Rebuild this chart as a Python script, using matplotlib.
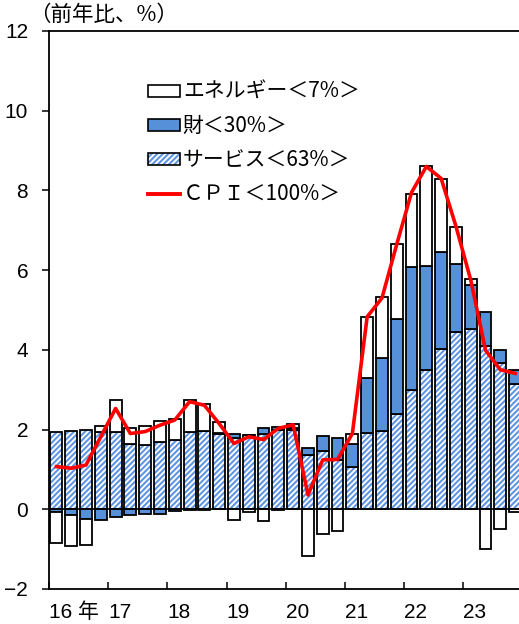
import matplotlib
matplotlib.use("Agg")
import matplotlib.pyplot as plt
from matplotlib import font_manager
from matplotlib.patches import Patch
from matplotlib.lines import Line2D
from matplotlib.legend_handler import HandlerTuple
import numpy as np

# ---------------- data ----------------
quarters = ["16Q1", "16Q2", "16Q3", "16Q4", "17Q1", "17Q2", "17Q3", "17Q4",
            "18Q1", "18Q2", "18Q3", "18Q4", "19Q1", "19Q2", "19Q3", "19Q4",
            "20Q1", "20Q2", "20Q3", "20Q4", "21Q1", "21Q2", "21Q3", "21Q4",
            "22Q1", "22Q2", "22Q3", "22Q4", "23Q1", "23Q2", "23Q3", "23Q4"]
year_labels = ["16 年", "17", "18", "19", "20", "21", "22", "23"]

services = [1.93, 1.97, 2.00, 1.93, 1.93, 1.65, 1.61, 1.70,
            1.75, 1.95, 1.97, 1.88, 1.78, 1.86, 1.90, 2.00,
            1.98, 1.36, 1.47, 1.24, 1.07, 1.92, 1.97, 2.39,
            3.00, 3.49, 4.01, 4.45, 4.53, 4.09, 3.68, 3.14]
goods = [-0.06, -0.15, -0.25, -0.28, -0.20, -0.15, -0.13, -0.11,
         -0.05, -0.02, -0.01, 0.04, 0.12, 0.00, 0.15, 0.07,
         0.05, 0.17, 0.38, 0.56, 0.57, 1.38, 1.83, 2.39,
         3.07, 2.61, 2.44, 1.70, 1.10, 0.86, 0.31, 0.35]
energy = [-0.79, -0.78, -0.64, 0.17, 0.81, 0.40, 0.49, 0.52,
          0.51, 0.79, 0.67, 0.26, -0.26, -0.06, -0.30, -0.03,
          0.10, -1.16, -0.62, -0.55, 0.25, 1.52, 1.52, 1.87,
          1.85, 2.51, 1.83, 0.92, 0.15, -0.99, -0.49, -0.08]
cpi = [1.07, 1.03, 1.11, 1.82, 2.53, 1.90, 1.95, 2.11,
       2.24, 2.70, 2.61, 2.15, 1.65, 1.82, 1.75, 2.03,
       2.12, 0.36, 1.24, 1.25, 1.90, 4.83, 5.30, 6.65,
       7.95, 8.60, 8.30, 7.10, 5.75, 3.99, 3.50, 3.41]

labels = ["エネルギー＜7%＞", "財＜30%＞", "サービス＜63%＞", "ＣＰＩ＜100%＞"]

# ---------------- style ----------------
available = {f.name for f in font_manager.fontManager.ttflist}
narrow = "Liberation Sans Narrow" if "Liberation Sans Narrow" in available else "Liberation Sans"
plt.rcParams["font.family"] = ["Noto Sans CJK JP", "DejaVu Sans"]
plt.rcParams["hatch.linewidth"] = 1.5
plt.rcParams["axes.unicode_minus"] = True

goods_color = "#5590d9"
hatch_color = "#5f95e2"

W, H = 519, 624
fig = plt.figure(figsize=(W / 100, H / 100), dpi=100)
ax = fig.add_axes([49 / W, 1 - 589 / H, 1 - 49 / W, (589 - 31) / H])

x = np.arange(len(quarters))
width = 0.8

pos_bottom = np.zeros(len(x))
neg_bottom = np.zeros(len(x))

def stack(vals):
    vals = np.asarray(vals, dtype=float)
    bottoms = np.where(vals >= 0, pos_bottom, neg_bottom)
    return vals, bottoms

def advance(vals):
    global pos_bottom, neg_bottom
    pos_bottom = pos_bottom + np.where(vals >= 0, vals, 0)
    neg_bottom = neg_bottom + np.where(vals < 0, vals, 0)

# services (hatched)
v, b = stack(services)
ax.bar(x, v, width, bottom=b, facecolor="white", edgecolor=hatch_color,
       hatch="//////", linewidth=0, zorder=2)
ax.bar(x, v, width, bottom=b, fill=False, edgecolor="black", linewidth=1.3, zorder=3)
advance(v)
# goods
v, b = stack(goods)
ax.bar(x, v, width, bottom=b, facecolor=goods_color, edgecolor="black",
       linewidth=1.3, zorder=3)
advance(v)
# energy
v, b = stack(energy)
ax.bar(x, v, width, bottom=b, facecolor="white", edgecolor="black",
       linewidth=1.3, zorder=3)
advance(v)

ax.plot(x, cpi, color="#ff0000", linewidth=2.6, zorder=5, solid_joinstyle="round")
ax.axhline(0, color="black", linewidth=1.2, zorder=4)

# axes
ax.set_xlim(-0.5, 31.26)
ax.set_ylim(-2, 12)
ax.set_yticks(np.arange(-2, 13, 2))
ax.tick_params(axis="y", direction="out", length=5, width=1.1, pad=10,
               labelsize=15)
for lab in ax.get_yticklabels():
    lab.set_family([narrow, "Noto Sans CJK JP"])

year_ticks = np.arange(len(year_labels)) * 4 - 0.5
ax.set_xticks(year_ticks)
ax.set_xticklabels(year_labels)
ax.tick_params(axis="x", direction="in", length=5, width=1.1, pad=10,
               labelsize=15)
for lab in ax.get_xticklabels():
    lab.set_family([narrow, "Noto Sans CJK JP"])
    lab.set_horizontalalignment("left")

for s in ["left", "bottom", "top"]:
    ax.spines[s].set_linewidth(1.3)
ax.spines["right"].set_visible(False)

fig.text(29 / W, 1 - 15 / H, "（前年比、%）", fontsize=15.5, va="center", ha="left")

handles = [
    Patch(facecolor="white", edgecolor="black", linewidth=1.2),
    Patch(facecolor=goods_color, edgecolor="black", linewidth=1.2),
    (Patch(facecolor="white", edgecolor=hatch_color, hatch="//////", linewidth=0),
     Patch(fill=False, edgecolor="black", linewidth=1.2)),
    Line2D([0], [0], color="#ff0000", linewidth=2.8),
]
leg = fig.legend(handles, labels, loc="upper left",
                 bbox_to_anchor=(148 / W, 1 - 81 / H), frameon=False,
                 fontsize=15, handlelength=1.55, handleheight=0.5,
                 handletextpad=0.12, labelspacing=0.58, borderpad=0,
                 borderaxespad=0,
                 handler_map={tuple: HandlerTuple(ndivide=1, pad=0)})

fig.savefig("out.png", dpi=100)
